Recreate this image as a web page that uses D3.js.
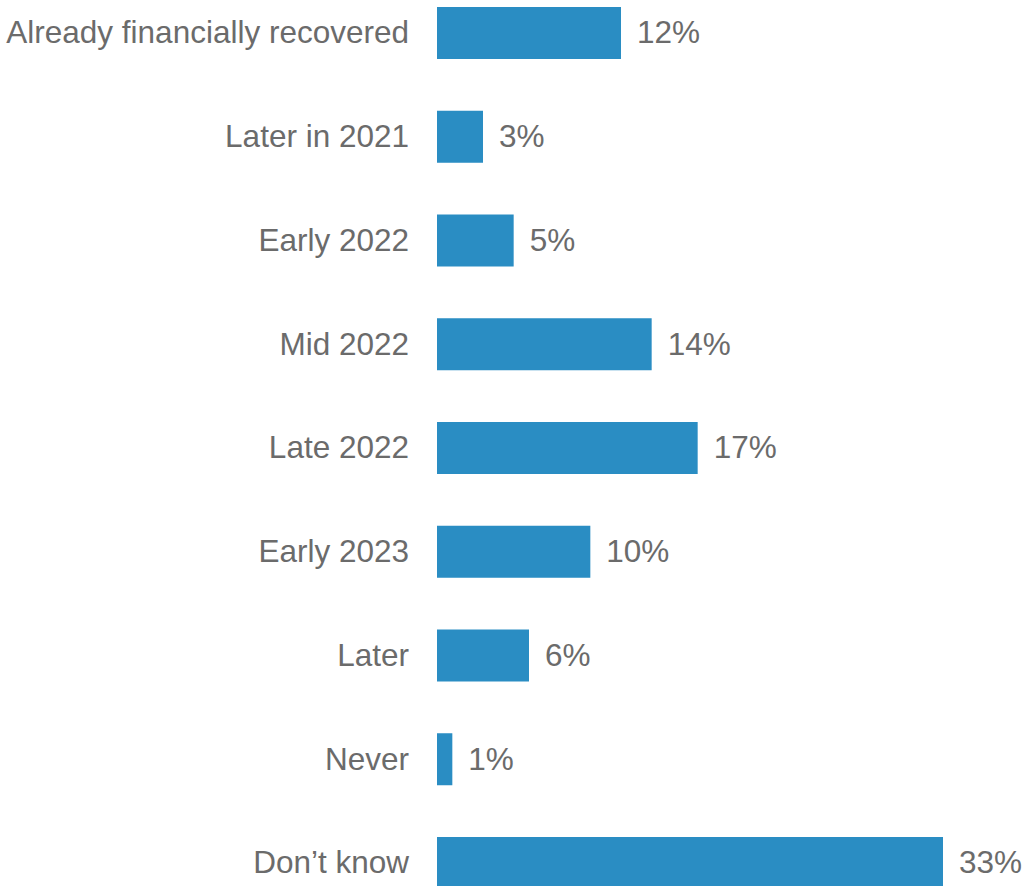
<!DOCTYPE html>
<html>
<head>
<meta charset="utf-8">
<script src="https://cdn.jsdelivr.net/npm/d3@7"></script>
<style>
  html, body { margin: 0; padding: 0; background: #fff; }
  svg { display: block; }
  text { font-family: "Liberation Sans", Arial, sans-serif; fill: #6b6b6b; }
</style>
</head>
<body>
<svg id="chart" width="1025" height="886"></svg>
<script>
const categories = [
  "Already financially recovered",
  "Later in 2021",
  "Early 2022",
  "Mid 2022",
  "Late 2022",
  "Early 2023",
  "Later",
  "Never",
  "Don\u2019t know"
];
const values = [12, 3, 5, 14, 17, 10, 6, 1, 33];
const valueLabels = ["12%", "3%", "5%", "14%", "17%", "10%", "6%", "1%", "33%"];

const svg = d3.select("#chart");
const barColor = "#2a8dc3";
const fontSize = 31.5;

const x = d3.scaleLinear().domain([0, 33]).range([437, 943]);
const y = d3.scaleBand()
  .domain(categories)
  .range([7, 889])
  .paddingInner(0.4988)
  .paddingOuter(0);

const rows = svg.selectAll("g.row")
  .data(categories.map((c, i) => ({ c, v: values[i], l: valueLabels[i] })))
  .join("g")
  .attr("class", "row");

rows.append("rect")
  .attr("x", x(0))
  .attr("y", d => y(d.c))
  .attr("width", d => x(d.v) - x(0))
  .attr("height", y.bandwidth())
  .attr("fill", barColor);

// Category labels, right-aligned to the left of the bars
rows.append("text")
  .attr("class", "cat")
  .attr("x", 409)
  .attr("y", d => y(d.c) + y.bandwidth() / 2)
  .attr("dy", "0.33em")
  .attr("text-anchor", "end")
  .style("font-size", fontSize + "px")
  .text(d => d.c);

// Value labels just past the end of each bar
rows.append("text")
  .attr("class", "val")
  .attr("x", d => x(d.v) + 16)
  .attr("y", d => y(d.c) + y.bandwidth() / 2)
  .attr("dy", "0.33em")
  .style("font-size", fontSize + "px")
  .text(d => d.l);
</script>
</body>
</html>
